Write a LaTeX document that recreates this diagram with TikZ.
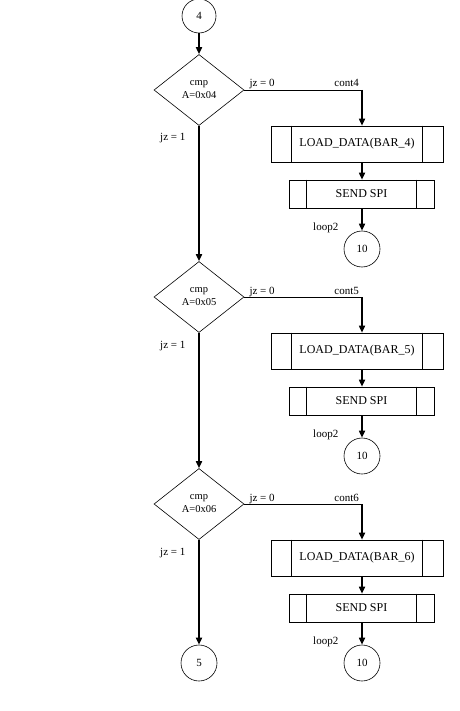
\documentclass[tikz,border=0pt]{standalone}
\usepackage{fontspec}
\setmainfont{Liberation Serif}
\usetikzlibrary{shapes.geometric}
\usetikzlibrary{arrows.meta}
\usetikzlibrary{calc}

\begin{document}
\begin{tikzpicture}[x=1pt, y=-1pt, >={Triangle[length=7pt,width=6pt]},
font=\fontsize{11}{13}\selectfont,
conn/.style={draw, circle, inner sep=0pt, minimum size=36pt, line width=.6pt},
test/.style={draw, diamond, minimum width=90pt, minimum height=71pt, inner sep=0pt, align=center, font=\fontsize{10.5}{13}\selectfont, line width=.6pt},
sub/.style={draw, rectangle, inner sep=0pt, line width=.6pt, font=\fontsize{12}{14}\selectfont},
flow/.style={->, line width=1.6pt},
branch/.style={line width=.8pt},
lbl/.style={inner sep=0pt}]

\useasboundingbox (0,0) rectangle (459,711);

%%%%%% ENTRY / EXIT %%%%%%%%%%

\node[conn, minimum size=34pt] (c4) at (199,16) {4};
\node[conn] (c5) at (199,663) {5};

%%%%%% CASES %%%%%%%%%%

\foreach \n [count=\i from 0] in {4,5,6}{
  \pgfmathsetmacro{\off}{207*\i}
  \node[test] (d\n) at (199, 90+\off) {cmp\\A=0x0\n};
  \node[sub, minimum width=172pt, minimum height=36pt] (l\n) at (357, 144+\off) {LOAD\_DATA(BAR\_\n)};
  \node[sub, minimum width=145pt, minimum height=28pt] (s\n) at (361.5, 194+\off) {SEND SPI};
  \node[conn] (t\n) at (362, 249+\off) {10};
  \coordinate (k\n) at (362, 90+\off);
  % side bars of the subroutine boxes
  \draw[line width=.6pt] ([xshift=21pt]l\n.north west) -- ([xshift=21pt]l\n.south west);
  \draw[line width=.6pt] ([xshift=-21pt]l\n.north east) -- ([xshift=-21pt]l\n.south east);
  \draw[line width=.6pt] ([xshift=18pt]s\n.north west) -- ([xshift=18pt]s\n.south west);
  \draw[line width=.6pt] ([xshift=-18pt]s\n.north east) -- ([xshift=-18pt]s\n.south east);
  % jz = 0 branch
  \draw[branch] (d\n.east) -- (k\n);
  \draw[flow] (k\n) -- (k\n |- l\n.north);
  \draw[flow] (k\n |- l\n.south) -- (k\n |- s\n.north);
  \draw[flow] (k\n |- s\n.south) -- (t\n.north);
  % labels
  \node[lbl, anchor=base west] (no\n) at ($(d\n.east)+(5,-3)$) {jz = 0};
  \node[lbl, anchor=base east] (cont\n) at ($(k\n)+(-3,-3)$) {cont\n};
  \node[lbl, anchor=base west] (yes\n) at ($(d\n)+(-39,51)$) {jz = 1};
  \node[lbl, anchor=base west] (ret\n) at ($(t\n)+(-49,-19)$) {loop2};
}

%%%%%% MAIN LINE %%%%%%%%%%

\draw[flow] (c4) -- (d4.north);
\draw[flow] (d4.south) -- (d5.north);
\draw[flow] (d5.south) -- (d6.north);
\draw[flow] (d6.south) -- (c5);

\end{tikzpicture}
\end{document}
